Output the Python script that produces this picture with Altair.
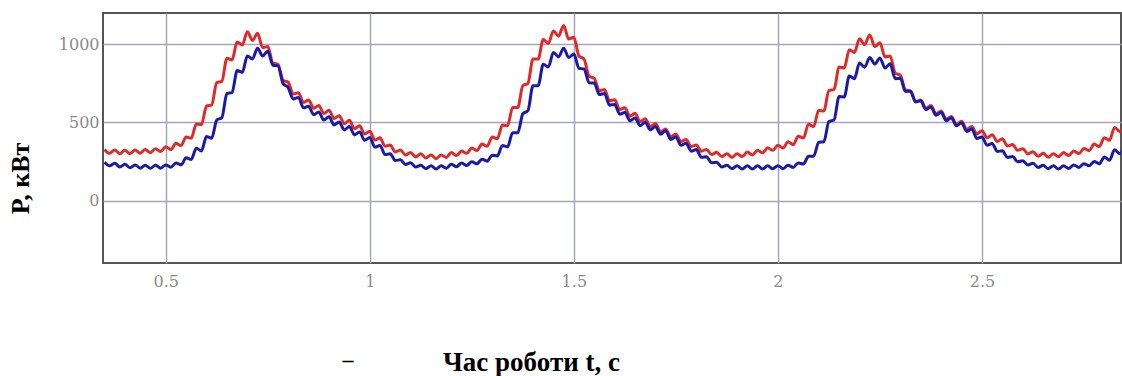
import altair as alt
import pandas as pd

# Sampling of the power traces (s): start and step of the time grid
T_START = 0.35
T_STEP = 0.0125

# Active power, upper (red) trace, kW
p_red = [
    327, 302, 324, 299, 322, 299, 324, 302, 327, 306,
    332, 313, 344, 326, 366, 352, 407, 398, 490, 485,
    605, 610, 755, 763, 910, 900, 1015, 995, 1080, 1025,
    1070, 978, 985, 880, 872, 770, 757, 682, 690, 628,
    643, 590, 608, 557, 578, 525, 543, 492, 513, 460,
    478, 425, 443, 387, 401, 347, 355, 311, 323, 291,
    307, 279, 299, 272, 292, 268, 292, 276, 307, 288,
    317, 302, 336, 320, 361, 347, 407, 395, 483, 478,
    595, 595, 735, 750, 905, 905, 1030, 1005, 1085, 1053,
    1120, 1033, 1045, 925, 905, 795, 782, 703, 710, 638,
    645, 582, 593, 540, 558, 505, 523, 472, 493, 440,
    458, 407, 426, 377, 390, 345, 356, 316, 327, 294,
    309, 281, 300, 276, 300, 281, 310, 292, 322, 306,
    337, 321, 354, 336, 376, 357, 412, 400, 488, 473,
    577, 573, 705, 710, 855, 848, 965, 948, 1035, 998,
    1060, 985, 1010, 918, 925, 815, 802, 708, 700, 633,
    643, 590, 608, 555, 573, 520, 538, 487, 508, 455,
    473, 425, 447, 401, 421, 377, 395, 349, 358, 321,
    332, 298, 312, 283, 302, 277, 300, 280, 307, 288,
    317, 301, 333, 319, 361, 345, 402, 385, 468, 442,
    528,
]

# Active power, lower (blue) trace, kW
p_blue = [
    245, 222, 238, 215, 232, 210, 228, 207, 226, 206,
    226, 207, 228, 213, 240, 228, 273, 263, 335, 317,
    410, 398, 515, 530, 685, 690, 832, 820, 925, 906,
    975, 925, 955, 866, 862, 748, 722, 650, 660, 593,
    603, 549, 566, 515, 536, 484, 503, 452, 473, 420,
    438, 385, 403, 342, 352, 294, 299, 256, 261, 231,
    242, 214, 225, 204, 222, 202, 222, 207, 232, 216,
    240, 224, 248, 235, 264, 252, 290, 285, 352, 343,
    433, 433, 555, 575, 735, 735, 872, 855, 947, 920,
    975, 915, 937, 846, 842, 753, 752, 678, 685, 610,
    615, 552, 563, 510, 528, 479, 501, 451, 473, 424,
    446, 391, 407, 353, 366, 316, 326, 277, 280, 241,
    245, 215, 225, 204, 222, 202, 222, 202, 222, 202,
    222, 203, 223, 204, 225, 212, 240, 233, 283, 283,
    373, 376, 505, 515, 665, 663, 797, 780, 880, 853,
    915, 873, 912, 848, 875, 780, 782, 698, 700, 630,
    638, 582, 598, 545, 563, 511, 530, 478, 498, 442,
    458, 397, 407, 354, 365, 314, 318, 276, 281, 248,
    255, 227, 238, 212, 225, 204, 222, 202, 222, 205,
    228, 212, 235, 222, 250, 235, 278, 258, 325, 300,
    375,
]

x_ticks = [0.5, 1, 1.5, 2, 2.5]
y_ticks = [0, 500, 1000]
x_domain = [0.3463, 2.8407]
y_domain = [-400, 1200]

t = [round(T_START + T_STEP * i, 4) for i in range(len(p_red))]
red_df = pd.DataFrame({"t": t, "p": p_red})
blue_df = pd.DataFrame({"t": t, "p": p_blue})

W, H = 1018, 250

x_enc = alt.X(
    "t:Q",
    scale=alt.Scale(domain=x_domain, nice=False, zero=False),
    axis=alt.Axis(
        values=x_ticks,
        format="~g",
        title="Час роботи t, с",
        titleX=428,
        titleY=99,
        titleAlign="center",
        titleBaseline="middle",
        titleFontSize=27,
        labelPadding=10,
    ),
)
y_enc = alt.Y(
    "p:Q",
    scale=alt.Scale(domain=y_domain, nice=False, zero=False),
    axis=alt.Axis(
        values=y_ticks,
        format="d",
        title="P, кВт",
        titleX=-83,
        titleY=165,
        titleAngle=-90,
        titleAlign="center",
        titleBaseline="middle",
        labelPadding=4,
        titleFontSize=26,
    ),
)

red_line = alt.Chart(red_df).mark_line(
    color="#e02a2a", strokeWidth=3, clip=True, interpolate="monotone",
    strokeJoin="round",
).encode(x=x_enc, y=y_enc)

blue_line = alt.Chart(blue_df).mark_line(
    color="#1a1aa8", strokeWidth=3, clip=True, interpolate="monotone",
    strokeJoin="round",
).encode(x="t:Q", y="p:Q")

dash = alt.Chart(pd.DataFrame({"s": ["–"]})).mark_text(
    font="Liberation Serif", fontSize=22, fontWeight="bold", color="#000000",
    align="center", baseline="middle",
).encode(text="s:N", x=alt.value(245), y=alt.value(347))

chart = (
    alt.layer(red_line, blue_line, dash)
    .properties(
        width=W,
        height=H,
        autosize="none",
        padding={"left": 103, "top": 13, "right": 1, "bottom": 113},
        background="#ffffff",
    )
    .configure_view(stroke="#555555", strokeWidth=2)
    .configure_axis(
        ticks=False,
        domain=False,
        grid=True,
        gridColor="#a4a4c2",
        gridWidth=1.5,
        labelFont="DejaVu Serif",
        labelFontSize=16,
        labelColor="#8a8a8a",
        titleFont="Liberation Serif",
        titleFontWeight="bold",
        titleFontSize=25,
        titleColor="#000000",
    )
)

chart.save("out.html", embed_options={"renderer": "svg", "actions": False})
